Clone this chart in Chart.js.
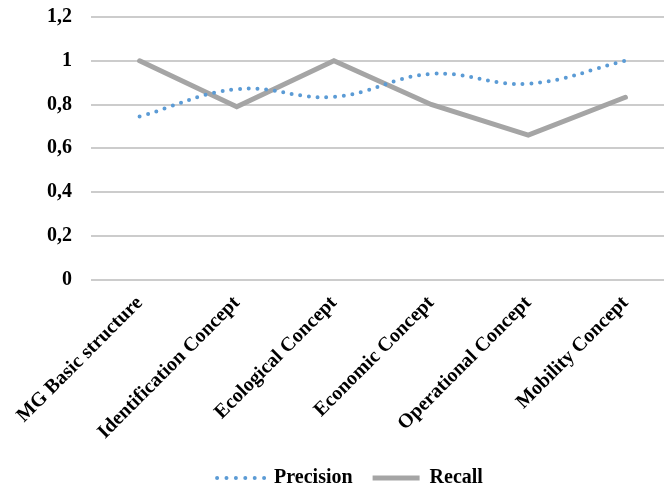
<!DOCTYPE html>
<html>
<head>
<meta charset="utf-8">
<script src="https://cdn.jsdelivr.net/npm/chart.js@4"></script>
<style>
  html, body { margin: 0; padding: 0; background: #ffffff; overflow: hidden; }
  #wrap { width: 674px; height: 489px; }
</style>
</head>
<body>
<div id="wrap"><canvas id="c" width="674" height="489"></canvas></div>
<script>
const categories = ["MG Basic structure", "Identification Concept", "Ecological Concept", "Economic Concept", "Operational Concept", "Mobility Concept"];
const precision = [0.745, 0.87, 0.835, 0.94, 0.895, 1.0];
const recall = [1.0, 0.79, 1.0, 0.80, 0.66, 0.833];
const yTicks = [0, 0.2, 0.4, 0.6, 0.8, 1, 1.2];

const FONT = "'Liberation Serif', 'Times New Roman', serif";

const legendShift = {
  id: 'legendShift',
  afterLayout(chart) {
    const lg = chart.legend;
    if (lg) { lg.left += 13; lg.right += 13; }
  }
};

new Chart(document.getElementById('c'), {
  type: 'line',
  data: {
    labels: categories,
    datasets: [
      {
        label: 'Precision',
        data: precision,
        borderColor: '#5b9bd5',
        backgroundColor: '#5b9bd5',
        borderWidth: 4,
        borderDash: [0, 8.7],
        borderCapStyle: 'round',
        tension: 0.4,
        pointRadius: 0,
        fill: false
      },
      {
        label: 'Recall',
        data: recall,
        borderColor: '#a5a5a5',
        backgroundColor: '#a5a5a5',
        borderWidth: 5,
        borderCapStyle: 'round',
        borderJoinStyle: 'miter',
        tension: 0,
        pointRadius: 0,
        fill: false
      }
    ]
  },
  plugins: [legendShift],
  options: {
    responsive: false,
    animation: false,
    devicePixelRatio: 1,
    layout: { padding: { left: 0, top: 0, right: 0, bottom: -9 } },
    plugins: {
      tooltip: { enabled: false },
      legend: {
        position: 'bottom',
        labels: {
          boxWidth: 47,
          boxHeight: 0,
          padding: 20,
          color: '#000000',
          font: { family: FONT, size: 20, weight: 'bold' },
          generateLabels(chart) {
            const items = Chart.defaults.plugins.legend.labels.generateLabels(chart);
            items.forEach((it, i) => {
              it.fillStyle = 'rgba(0,0,0,0)';
              if (i === 0) { it.lineDash = [0, 9.4]; it.lineCap = 'round'; it.lineWidth = 4; }
              else { it.lineDash = []; it.lineCap = 'butt'; it.lineWidth = 5; }
            });
            return items;
          }
        }
      }
    },
    scales: {
      x: {
        offset: true,
        grid: { display: false },
        border: { display: false },
        ticks: {
          autoSkip: false,
          minRotation: 45,
          maxRotation: 45,
          padding: 4,
          color: '#000000',
          font: { family: FONT, size: 20, weight: 'bold' }
        }
      },
      y: {
        min: 0,
        max: 1.2,
        afterBuildTicks(axis) { axis.ticks = yTicks.map(v => ({ value: v })); },
        afterFit(axis) { axis.width = 91; axis.paddingTop = 17; },
        grid: { color: '#cccccc', lineWidth: 2, drawTicks: false },
        border: { display: false },
        ticks: {
          padding: 19,
          color: '#000000',
          font: { family: FONT, size: 20, weight: 'bold' },
          callback: (v) => String(Number(v.toFixed(1))).replace('.', ',')
        }
      }
    }
  }
});
</script>
</body>
</html>
